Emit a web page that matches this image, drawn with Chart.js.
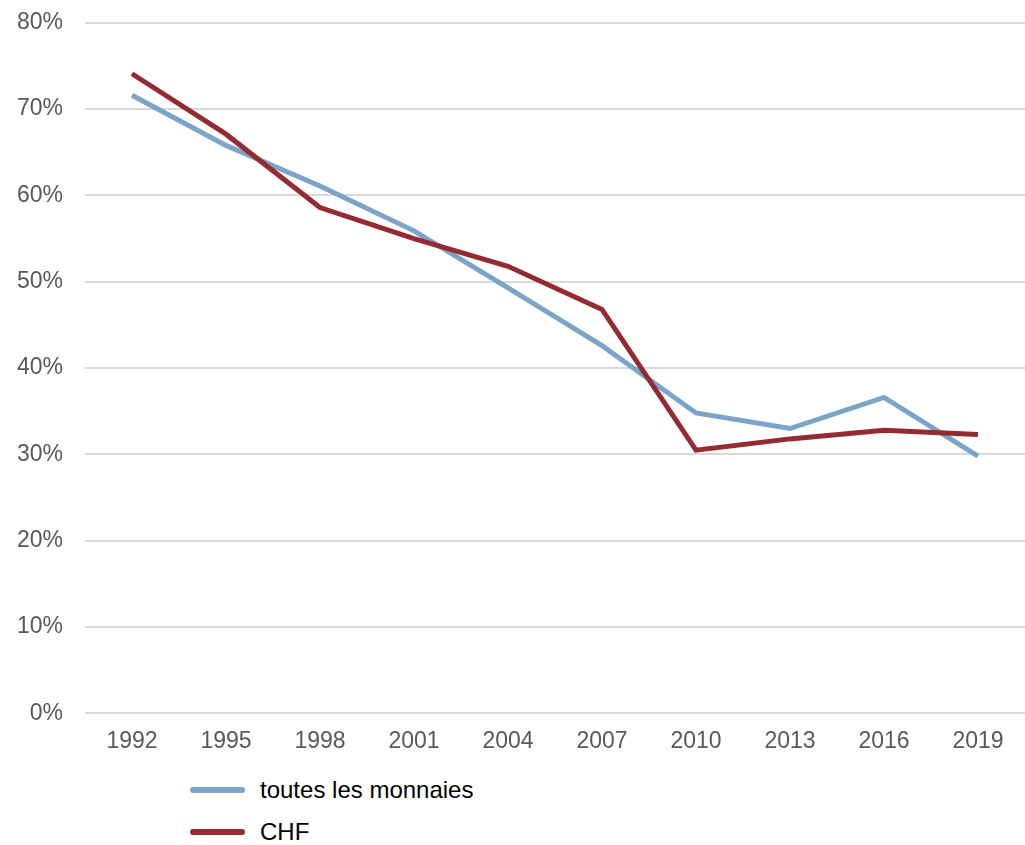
<!DOCTYPE html>
<html lang="fr">
<head>
<meta charset="utf-8">
<script src="https://cdn.jsdelivr.net/npm/chart.js@4.4.1/dist/chart.umd.min.js"></script>
<style>
  body { margin: 0; background: #fff; font-family: "Liberation Sans", Arial, sans-serif; }
  #wrap { position: relative; width: 1025px; height: 765px; overflow: hidden; }
  #chart { position: absolute; left: 0; top: -13px; }
  #legend { position: absolute; left: 190px; top: 769px; }
  .item { display: flex; align-items: center; height: 42px; font-size: 24px; color: #000; }
  .swatch { width: 55px; height: 6px; border-radius: 3px; margin-right: 15px; }
</style>
</head>
<body>
<div id="wrap"><canvas id="chart" width="1025" height="774"></canvas></div>
<div id="legend"></div>
<script>
// Années d'enquête
const annees = ['1992', '1995', '1998', '2001', '2004', '2007', '2010', '2013', '2016', '2019'];

// Part en % – toutes les monnaies
const toutesMonnaies = [71.6, 65.8, 61.1, 55.9, 49.3, 42.6, 34.8, 33.0, 36.6, 29.8];

// Part en % – CHF
const chf = [74.1, 67.1, 58.6, 55.0, 51.8, 46.8, 30.5, 31.8, 32.8, 32.3];

const bleu = '#7ba4c9';
const rouge = '#952a32';

const chart = new Chart(document.getElementById('chart'), {
  type: 'line',
  data: {
    labels: annees,
    datasets: [{
      label: 'toutes les monnaies',
      data: toutesMonnaies,
      borderColor: bleu,
      backgroundColor: bleu,
      borderWidth: 5,
      pointRadius: 0,
      tension: 0,
      order: 1,
    }, {
      label: 'CHF',
      data: chf,
      borderColor: rouge,
      backgroundColor: rouge,
      borderWidth: 5,
      pointRadius: 0,
      tension: 0,
      order: 0, // CHF passe au-dessus
    }]
  },
  options: {
    responsive: false,
    animation: false,
    layout: { padding: 0 },
    plugins: {
      legend: { display: false },
      tooltip: { enabled: false }
    },
    scales: {
      x: {
        offset: true,
        grid: { display: false },
        border: { display: false },
        ticks: { color: '#595959', font: { family: 'Liberation Sans', size: 23 }, padding: 6, maxRotation: 0 }
      },
      y: {
        min: 0,
        max: 80,
        afterFit: scale => { scale.width = 85; },
        ticks: {
          stepSize: 10,
          color: '#595959',
          padding: 22,
          font: { family: 'Liberation Sans', size: 23 },
          callback: v => v + '%'
        },
        grid: { color: '#d9d9d9', lineWidth: 2, drawTicks: false },
        border: { display: false }
      }
    }
  }
});

// Légende verticale sous le graphique
const legend = document.getElementById('legend');
chart.data.datasets.forEach(ds => {
  const item = document.createElement('div');
  item.className = 'item';
  item.innerHTML = '<span class="swatch" style="background:' + ds.borderColor + '"></span>' + ds.label;
  legend.appendChild(item);
});
</script>
</body>
</html>
